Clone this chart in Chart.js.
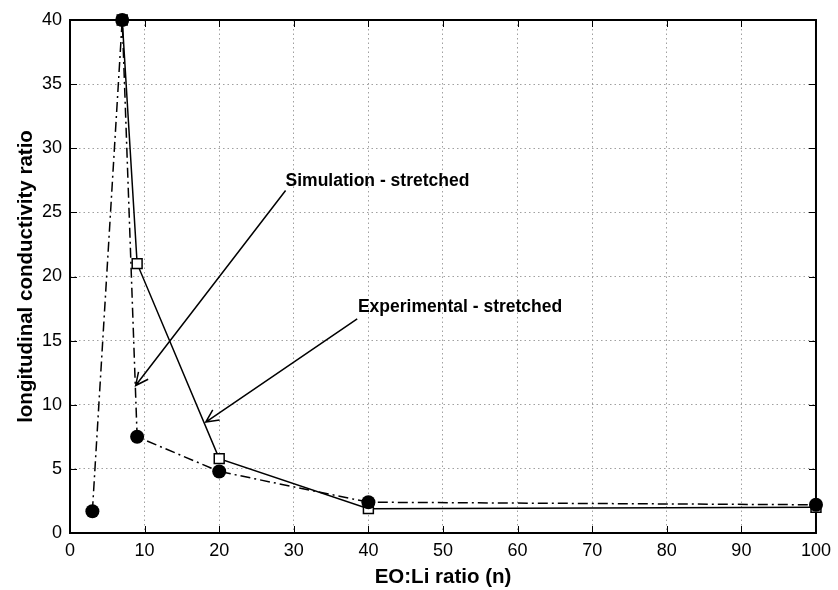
<!DOCTYPE html>
<html>
<head>
<meta charset="utf-8">
<script src="https://cdn.jsdelivr.net/npm/chart.js@4/dist/chart.umd.min.js"></script>
<style>
  body { margin: 0; background: #fff; }
  #wrap { width: 838px; height: 590px; }
</style>
</head>
<body>
<div id="wrap"><canvas id="chart" width="838" height="590"></canvas></div>
<script>
// simulation - stretched (dash-dot, filled circles)
var simX = [3, 7, 9, 20, 40, 100];
var simY = [1.7, 40, 7.5, 4.8, 2.4, 2.2];
// experimental - stretched (solid, open squares)
var expX = [7, 9, 20, 40, 100];
var expY = [40, 21, 5.8, 1.9, 2.0];

var xTicks = [0, 10, 20, 30, 40, 50, 60, 70, 80, 90, 100];
var yTicks = [0, 5, 10, 15, 20, 25, 30, 35, 40];

var xTitle = "EO:Li ratio (n)";
var yTitle = "longitudinal conductivity ratio";

// arrows: label, label anchor, tail and tip, all in data units
var noteLabels = ["Simulation - stretched", "Experimental - stretched"];
var noteTextX = [28.9, 38.6];
var noteTextY = [27.4, 17.6];
var noteTailX = [28.9, 38.5];
var noteTailY = [26.7, 16.7];
var noteTipX = [8.8, 18.2];
var noteTipY = [11.5, 8.65];

function pts(xs, ys) {
  var out = [];
  for (var i = 0; i < xs.length; i++) out.push({x: xs[i], y: ys[i]});
  return out;
}

var FONT = "'Liberation Sans', Arial, sans-serif";

var framePlugin = {
  id: 'frame',
  beforeDatasetsDraw: function (chart) {
    var ctx = chart.ctx, a = chart.chartArea;
    var xs = chart.scales.x, ys = chart.scales.y;
    var t = 7;
    ctx.save();
    ctx.strokeStyle = '#000';
    ctx.lineWidth = 1;
    ctx.beginPath();
    xTicks.forEach(function (v) {
      var px = Math.round(xs.getPixelForValue(v)) + 0.5;
      ctx.moveTo(px, a.bottom); ctx.lineTo(px, a.bottom - t);
      ctx.moveTo(px, a.top); ctx.lineTo(px, a.top + t);
    });
    yTicks.forEach(function (v) {
      var py = Math.round(ys.getPixelForValue(v)) + 0.5;
      ctx.moveTo(a.left, py); ctx.lineTo(a.left + t, py);
      ctx.moveTo(a.right, py); ctx.lineTo(a.right - t, py);
    });
    ctx.stroke();
    ctx.lineWidth = 2;
    ctx.strokeRect(a.left, a.top, a.right - a.left, a.bottom - a.top);
    ctx.restore();
  },
  afterDatasetsDraw: function (chart) {
    var ctx = chart.ctx;
    var xs = chart.scales.x, ys = chart.scales.y;
    ctx.save();
    ctx.strokeStyle = '#000';
    ctx.fillStyle = '#000';
    ctx.lineWidth = 1.5;
    ctx.font = "bold 17.5px " + FONT;
    ctx.textBaseline = 'middle';
    ctx.textAlign = 'left';
    for (var i = 0; i < noteLabels.length; i++) {
      var x0 = xs.getPixelForValue(noteTailX[i]), y0 = ys.getPixelForValue(noteTailY[i]);
      var x1 = xs.getPixelForValue(noteTipX[i]), y1 = ys.getPixelForValue(noteTipY[i]);
      var ang = Math.atan2(y1 - y0, x1 - x0);
      var h = 14, w = 0.45;
      ctx.beginPath();
      ctx.moveTo(x0, y0); ctx.lineTo(x1, y1);
      ctx.moveTo(x1 - h * Math.cos(ang - w), y1 - h * Math.sin(ang - w));
      ctx.lineTo(x1, y1);
      ctx.lineTo(x1 - h * Math.cos(ang + w), y1 - h * Math.sin(ang + w));
      ctx.stroke();
      ctx.fillText(noteLabels[i], xs.getPixelForValue(noteTextX[i]), ys.getPixelForValue(noteTextY[i]));
    }
    ctx.restore();
  }
};

var ctx = document.getElementById('chart').getContext('2d');
var chart = new Chart(ctx, {
  type: 'scatter',
  data: {
    datasets: [
      {
        label: noteLabels[0],
        data: pts(simX, simY),
        order: 0, // circles on top
        showLine: true,
        borderColor: '#000',
        borderWidth: 1.5,
        borderDash: [10, 4, 2, 4],
        pointStyle: 'circle',
        pointRadius: 7,
        pointBackgroundColor: '#000',
        pointBorderColor: '#000',
        pointBorderWidth: 0,
        clip: false
      },
      {
        label: noteLabels[1],
        data: pts(expX, expY),
        order: 1,
        showLine: true,
        borderColor: '#000',
        borderWidth: 1.5,
        pointStyle: 'rect',
        pointRadius: 7,
        pointBackgroundColor: '#fff',
        pointBorderColor: '#000',
        pointBorderWidth: 1.5,
        clip: false
      }
    ]
  },
  options: {
    responsive: false,
    animation: false,
    layout: { padding: { top: 20, right: 16, left: 0, bottom: 0 } },
    plugins: {
      legend: { display: false },
      tooltip: { enabled: false }
    },
    scales: {
      x: {
        type: 'linear',
        min: 0,
        max: 100,
        afterBuildTicks: function (s) { s.ticks = xTicks.map(function (v) { return {value: v}; }); },
        afterFit: function (s) { s.height = 57; },
        ticks: { color: '#000', font: { family: FONT, size: 18 }, padding: 7, maxRotation: 0 },
        grid: { color: '#a0a0a0', lineWidth: 1, drawTicks: false },
        border: { display: false, dash: [1.5, 3] },
        title: { display: true, text: xTitle, color: '#000', font: { family: FONT, size: 20.5, weight: 'bold' }, padding: { top: 0, bottom: 0 } }
      },
      y: {
        type: 'linear',
        min: 0,
        max: 40,
        afterBuildTicks: function (s) { s.ticks = yTicks.map(function (v) { return {value: v}; }); },
        afterFit: function (s) { s.width = 70; },
        ticks: { color: '#000', font: { family: FONT, size: 18 }, padding: 8 },
        grid: { color: '#a0a0a0', lineWidth: 1, drawTicks: false },
        border: { display: false, dash: [1.5, 3] },
        title: { display: true, text: yTitle, color: '#000', font: { family: FONT, size: 20.5, weight: 'bold' }, padding: { top: 14, bottom: 0 } }
      }
    }
  },
  plugins: [framePlugin]
});
</script>
</body>
</html>
